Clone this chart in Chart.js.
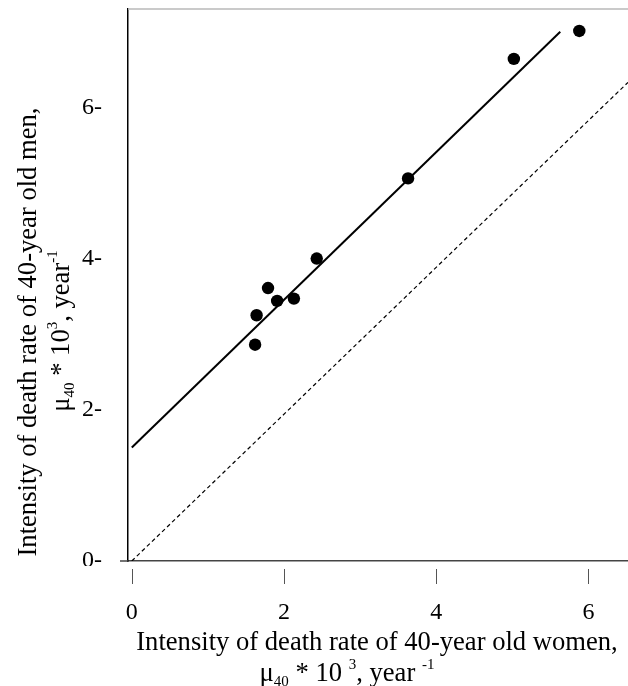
<!DOCTYPE html>
<html>
<head>
<meta charset="utf-8">
<script src="https://cdn.jsdelivr.net/npm/chart.js@4/dist/chart.umd.min.js"></script>
<style>
html, body { margin: 0; padding: 0; background: #fff; }
canvas { display: block; }
</style>
</head>
<body>
<canvas id="c" width="628" height="686"></canvas>
<script>
// ---- data ----
const womenRates = [5.88, 5.02, 3.63, 2.43, 1.79, 1.91, 2.13, 1.64, 1.62];
const menRates   = [7.01, 6.64, 5.06, 4.00, 3.61, 3.44, 3.47, 3.25, 2.86];
const fitLineX   = [0, 5.63];
const fitLineY   = [1.5, 7.0];
const equalLineX = [0, 6.52];
const equalLineY = [0, 6.33];
const xTickValues = [0, 2, 4, 6];
const yTickValues = [0, 2, 4, 6];
const xRange = [-0.05, 6.52];
const yRange = [0, 7.3];

const xTitleLine1 = [["Intensity of death rate of 40-year old women,", "n"]];
const xTitleLine2 = [["\u03bc", "n"], ["40", "sub"], [" * 10 ", "n"], ["3", "sup"], [", year ", "n"], ["-1", "sup"]];
const yTitleLine1 = [["Intensity of death rate of 40-year old men,", "n"]];
const yTitleLine2 = [["\u03bc", "n"], ["40", "sub"], [" * 10", "n"], ["3", "sup"], [", year", "n"], ["-1", "sup"]];

const FONT = '"Liberation Serif", "Times New Roman", serif';

function toPoints(xs, ys) { return xs.map((v, i) => ({ x: v, y: ys[i] })); }

function drawRich(ctx, runs, x, y, angle) {
  const base = 26.6, small = 15;
  const items = runs.map(([t, kind]) => {
    const size = kind === 'n' ? base : small;
    ctx.font = size + 'px ' + FONT;
    return { t, size, dy: kind === 'sub' ? 5 : (kind === 'sup' ? -12 : 0), w: ctx.measureText(t).width };
  });
  const total = items.reduce((s, it) => s + it.w, 0);
  ctx.save();
  ctx.translate(x, y);
  ctx.rotate(angle);
  ctx.fillStyle = '#000';
  ctx.textBaseline = 'alphabetic';
  ctx.textAlign = 'left';
  let cx = -total / 2;
  items.forEach(it => {
    ctx.font = it.size + 'px ' + FONT;
    ctx.fillText(it.t, cx, it.dy);
    cx += it.w;
  });
  ctx.restore();
}

const framePlugin = {
  id: 'frame',
  afterDraw(chart) {
    const { ctx, chartArea: a, scales: { x } } = chart;
    ctx.save();
    // lower part of the "0-" label is hidden in the reference
    ctx.fillStyle = '#fff';
    ctx.fillRect(60, a.bottom + 5, a.left - 64, 30);
    // light top frame line
    ctx.strokeStyle = '#b8b8b8';
    ctx.lineWidth = 1.5;
    ctx.beginPath(); ctx.moveTo(a.left, a.top); ctx.lineTo(a.right, a.top); ctx.stroke();
    // x axis extends a little left of the y axis
    ctx.strokeStyle = '#444';
    ctx.beginPath(); ctx.moveTo(a.left - 8, a.bottom); ctx.lineTo(a.left, a.bottom); ctx.stroke();
    // detached x tick marks
    ctx.strokeStyle = '#555';
    ctx.lineWidth = 1;
    xTickValues.forEach(v => {
      const px = Math.round(x.getPixelForValue(v)) + 0.5;
      ctx.beginPath(); ctx.moveTo(px, a.bottom + 8); ctx.lineTo(px, a.bottom + 23); ctx.stroke();
    });
    ctx.restore();
    // axis titles
    const midX = (a.left + a.right) / 2;
    drawRich(ctx, xTitleLine1, midX - 1, 650, 0);
    drawRich(ctx, xTitleLine2, midX - 31, 681, 0);
    drawRich(ctx, yTitleLine1, 36, 332, -Math.PI / 2);
    drawRich(ctx, yTitleLine2, 69, 331, -Math.PI / 2);
  }
};

function fixPadding(scale) {
  scale.paddingLeft = 0; scale.paddingRight = 0;
  scale.paddingTop = 0; scale.paddingBottom = 0;
}

new Chart(document.getElementById('c'), {
  type: 'scatter',
  data: {
    datasets: [
      {
        label: 'countries',
        data: toPoints(womenRates, menRates),
        pointRadius: 6.2,
        pointHoverRadius: 6.2,
        backgroundColor: '#000',
        borderWidth: 0
      },
      {
        label: 'regression',
        type: 'line',
        data: toPoints(fitLineX, fitLineY),
        borderColor: '#000',
        borderWidth: 2,
        pointRadius: 0,
        fill: false
      },
      {
        label: 'equality',
        type: 'line',
        data: toPoints(equalLineX, equalLineY),
        borderColor: '#000',
        borderWidth: 1.2,
        borderDash: [4, 3],
        pointRadius: 0,
        fill: false
      }
    ]
  },
  options: {
    responsive: false,
    animation: false,
    events: [],
    layout: { autoPadding: false, padding: { top: 9, right: 0, bottom: 0, left: 0 } },
    plugins: { legend: { display: false }, tooltip: { enabled: false }, title: { display: false } },
    scales: {
      x: {
        type: 'linear',
        min: xRange[0],
        max: xRange[1],
        grid: { display: false, drawTicks: false },
        border: { display: true, color: '#444', width: 1.5 },
        ticks: { color: '#000', font: { family: FONT, size: 24 }, padding: 37 },
        afterBuildTicks: s => { s.ticks = xTickValues.map(v => ({ value: v })); },
        afterFit: s => { s.height = 125; fixPadding(s); }
      },
      y: {
        type: 'linear',
        min: yRange[0],
        max: yRange[1],
        grid: { display: false, drawTicks: false },
        border: { display: true, color: '#000', width: 1.5 },
        ticks: { color: '#000', font: { family: FONT, size: 24 }, padding: 26, callback: v => v + '-' },
        afterBuildTicks: s => { s.ticks = yTickValues.map(v => ({ value: v })); },
        afterFit: s => { s.width = 128; fixPadding(s); }
      }
    }
  },
  plugins: [framePlugin]
});
</script>
</body>
</html>
